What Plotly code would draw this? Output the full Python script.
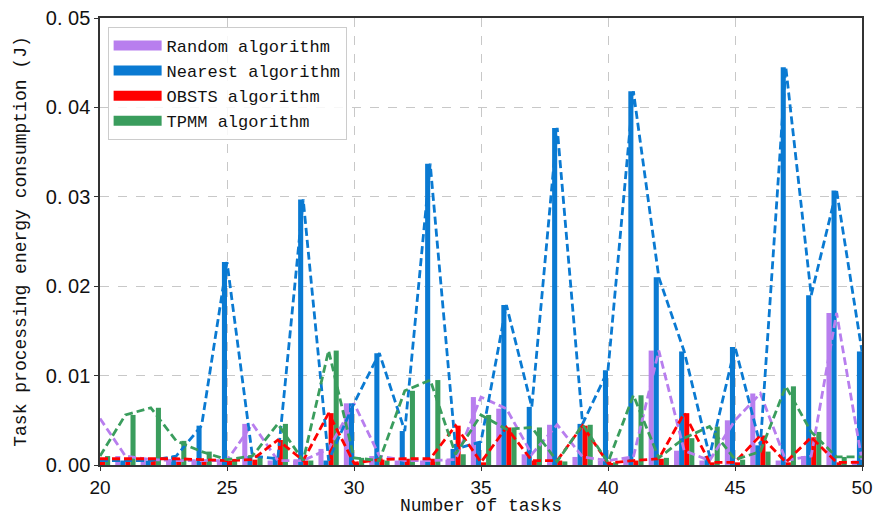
import plotly.graph_objects as go

tasks = list(range(20, 51))

random_alg = [0.0052, 0.0010, 0.0006, 0.0005, 0.0005, 0.0005, 0.0046, 0.0005, 0.0005, 0.0018,
              0.0069, 0.0010, 0.0005, 0.0005, 0.0006, 0.0076, 0.0063, 0.0012, 0.0045, 0.0009,
              0.0005, 0.0009, 0.0128, 0.0016, 0.0005, 0.0050, 0.0080, 0.0005, 0.0010, 0.0170,
              0.0005]
nearest_alg = [0.0005, 0.0005, 0.0005, 0.0010, 0.0044, 0.0227, 0.0010, 0.0007, 0.0297, 0.0005,
               0.0069, 0.0125, 0.0038, 0.0337, 0.0018, 0.0026, 0.0179, 0.0065, 0.0377, 0.0046,
               0.0106, 0.0418, 0.0210, 0.0127, 0.0010, 0.0132, 0.0022, 0.0445, 0.0190, 0.0307,
               0.0127]
obsts_alg = [0.0007, 0.0007, 0.0007, 0.0007, 0.0006, 0.0005, 0.0006, 0.0028, 0.0005, 0.0058,
             0.0002, 0.0006, 0.0007, 0.0007, 0.0044, 0.0003, 0.0042, 0.0005, 0.0005, 0.0044,
             0.0002, 0.0005, 0.0007, 0.0058, 0.0003, 0.0003, 0.0033, 0.0003, 0.0031, 0.0003,
             0.0003]
tpmm_alg = [0.0010, 0.0056, 0.0064, 0.0027, 0.0015, 0.0006, 0.0010, 0.0046, 0.0005, 0.0128,
            0.0008, 0.0005, 0.0083, 0.0095, 0.0012, 0.0056, 0.0040, 0.0042, 0.0004, 0.0045,
            0.0003, 0.0078, 0.0008, 0.0030, 0.0043, 0.0006, 0.0015, 0.0088, 0.0037, 0.0009,
            0.0009]

names = ["Random algorithm", "Nearest algorithm", "OBSTS algorithm", "TPMM algorithm"]
series = [random_alg, nearest_alg, obsts_alg, tpmm_alg]
colors = ["#B87EEE", "#0A7AD2", "#FF0000", "#3A9D5D"]

y_ticks = [0.0, 0.01, 0.02, 0.03, 0.04, 0.05]
y_ticktext = ["0. 00", "0. 01", "0. 02", "0. 03", "0. 04", "0. 05"]
x_ticks = [20, 25, 30, 35, 40, 45, 50]

fig = go.Figure()

for name, vals, col in zip(names, series, colors):
    fig.add_trace(go.Bar(x=tasks, y=vals, name=name, marker=dict(color=col, line=dict(width=0)),
                         showlegend=False))

for name, vals, col in zip(names, series, colors):
    fig.add_trace(go.Scatter(x=tasks, y=vals, mode="lines", name=name,
                             line=dict(color=col, width=2.8, dash="8px,4px"),
                             showlegend=False))

for name, col in zip(names, colors):
    fig.add_trace(go.Scatter(x=[None], y=[None], mode="lines", name=name,
                             line=dict(color=col, width=10), showlegend=True))

mono = "Liberation Mono"
fig.update_layout(
    width=873, height=516,
    margin=dict(l=100, r=11, t=18, b=51),
    paper_bgcolor="white", plot_bgcolor="white",
    barmode="group", bargap=0.2, bargroupgap=0,
    legend=dict(x=0.01, y=0.98, xanchor="left", yanchor="top",
                bgcolor="rgba(255,255,255,0.85)", bordercolor="#cccccc", borderwidth=1,
                font=dict(family=mono, size=17, color="#111"),
                itemwidth=48, tracegroupgap=0),
    xaxis=dict(range=[20, 50], tickvals=x_ticks, showgrid=True, gridcolor="#c8c8c8",
               griddash="dash", gridwidth=1, showline=True, linecolor="#333", linewidth=1.5,
               mirror=True, ticks="outside", ticklen=4, tickcolor="#333", automargin=False,
               tickfont=dict(family="Liberation Sans", size=19, color="#111"),
               title=dict(text="Number of tasks", font=dict(family=mono, size=18, color="#111"),
                          standoff=2),
               zeroline=False),
    yaxis=dict(range=[0, 0.05], tickvals=y_ticks, ticktext=y_ticktext, showgrid=True,
               gridcolor="#c8c8c8", griddash="dash", gridwidth=1, showline=True,
               linecolor="#333", linewidth=1.5, mirror=True, ticks="outside", ticklen=4,
               tickcolor="#333", automargin=False,
               tickfont=dict(family="Liberation Sans", size=20, color="#111"),
               title=dict(text="Task processing energy consumption (J)",
                          font=dict(family=mono, size=18, color="#111"), standoff=14),
               zeroline=False),
)

fig.write_html("out.html", config={"displayModeBar": False},
               post_script="document.body.style.margin='0';document.body.style.overflow='hidden';")
